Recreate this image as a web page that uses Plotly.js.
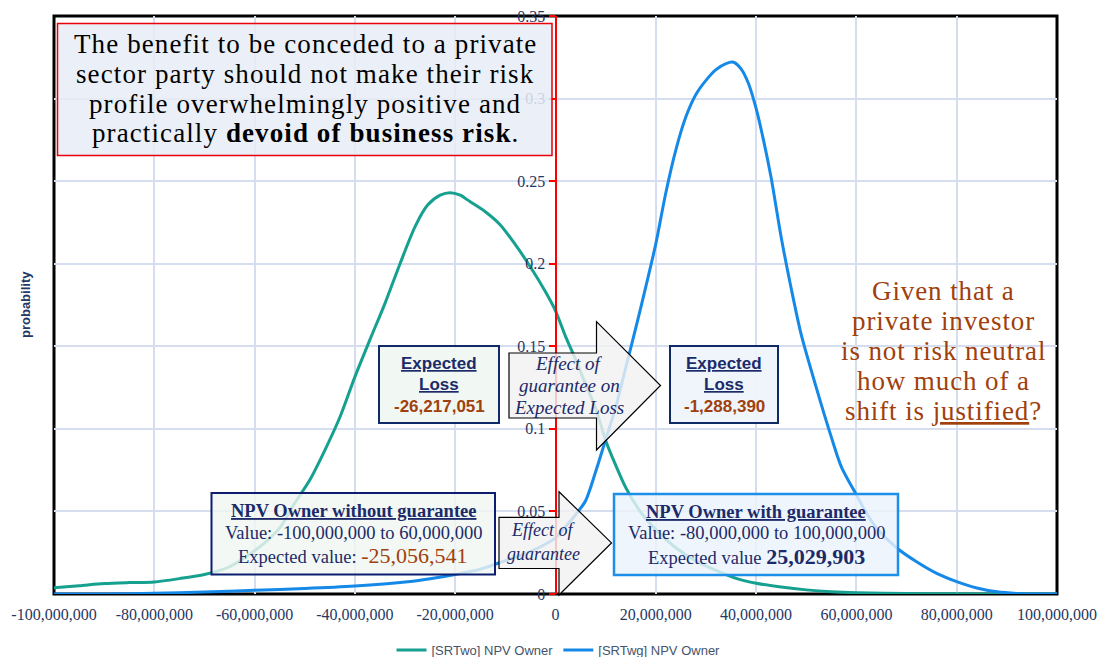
<!DOCTYPE html>
<html>
<head>
<meta charset="utf-8">
<script src="https://cdn.plot.ly/plotly-3.0.1.min.js"></script>
<style>
  html, body { margin: 0; padding: 0; background: #ffffff; }
  #chart { width: 1099px; height: 657px; }
</style>
</head>
<body>
<div id="chart"></div>
<script>
// ---- Series: probability of NPV (owner) without / with the guarantee ----
const npvWithoutX = [-100e6, -95e6, -90e6, -85e6, -80e6, -75e6, -70e6, -65e6, -62e6, -58e6,
  -55e6, -52e6, -49e6, -46e6, -43e6, -40e6, -37e6, -34e6, -31e6, -28e6,
  -25.5e6, -23e6, -21e6, -19e6, -17e6, -14e6, -11e6, -8e6, -5e6, -2e6,
  0, 2e6, 4e6, 6e6, 8e6, 10e6, 12e6, 14e6, 17e6, 20e6,
  24e6, 28e6, 32e6, 36e6, 40e6, 45e6, 50e6, 55e6, 60e6, 70e6, 80e6, 90e6, 100e6];
const npvWithoutP = [0.0038, 0.0050, 0.0063, 0.0069, 0.0073, 0.0093, 0.0118, 0.0165, 0.022, 0.031,
  0.040, 0.055, 0.069, 0.087, 0.107, 0.1315, 0.154, 0.176, 0.200, 0.2225,
  0.2355, 0.2415, 0.243, 0.2415, 0.2375, 0.2315, 0.2235, 0.2115, 0.198, 0.183,
  0.1715, 0.156, 0.142, 0.127, 0.1125, 0.093, 0.078, 0.0645, 0.0495, 0.039,
  0.028, 0.020, 0.0143, 0.0095, 0.0065, 0.0042, 0.0025, 0.0014, 0.0008, 0.0003, 0.0001, 0, 0];

const npvWithX = [-100e6, -90e6, -80e6, -70e6, -60e6, -50e6, -40e6, -30e6, -25e6, -20e6,
  -15e6, -10e6, -6e6, -3e6, 0, 2e6, 4e6, 6e6, 8e6, 10e6,
  12e6, 14e6, 16e6, 18e6, 20e6, 22e6, 24e6, 26e6, 28e6, 30e6,
  32e6, 34e6, 35.5e6, 37e6, 38.5e6, 40e6, 41.5e6, 43e6, 45e6, 47e6,
  49e6, 52e6, 55e6, 57e6, 60e6, 62e6, 64e6, 68e6, 72e6, 76e6,
  80e6, 84e6, 88e6, 92e6, 96e6, 100e6];
const npvWithP = [0, 0, 0.0004, 0.0012, 0.0022, 0.0033, 0.0048, 0.0072, 0.0092, 0.0118,
  0.015, 0.0202, 0.0245, 0.0286, 0.034, 0.0407, 0.048, 0.0565, 0.074, 0.0935,
  0.113, 0.137, 0.161, 0.186, 0.212, 0.243, 0.269, 0.289, 0.3025, 0.311,
  0.3175, 0.3212, 0.322, 0.318, 0.309, 0.294, 0.2745, 0.252, 0.216, 0.185,
  0.157, 0.125, 0.095, 0.077, 0.060, 0.049, 0.040, 0.028, 0.0195, 0.0125,
  0.0075, 0.0036, 0.0013, 0.0003, 0, 0];

const seriesNames = ['[SRTwo] NPV Owner', '[SRTwg] NPV Owner'];

// ---- Axis ticks ----
const xTickVals = [-100e6, -80e6, -60e6, -40e6, -20e6, 0, 20e6, 40e6, 60e6, 80e6, 100e6];
const xTickText = ['-100,000,000', '-80,000,000', '-60,000,000', '-40,000,000', '-20,000,000', '0',
  '20,000,000', '40,000,000', '60,000,000', '80,000,000', '100,000,000'];
const yTickVals = [0, 0.05, 0.1, 0.15, 0.2, 0.25, 0.3, 0.35];
const yTickText = ['0', '0.05', '0.1', '0.15', '0.2', '0.25', '0.3', '0.35'];

// ---- Page geometry (pixels) and helpers to place overlays in paper units ----
const W = 1099, H = 657;
const M = { l: 54, r: 42, t: 16, b: 63, autoexpand: false };
const PW = W - M.l - M.r, PH = H - M.t - M.b;
const fx = p => (p - M.l) / PW;
const fy = p => (H - M.b - p) / PH;

const SERIF = '"Liberation Serif", "Times New Roman", serif';
const SANS = '"Liberation Sans", Arial, sans-serif';
const NAVY = '#1B2A68';
const BROWN = '#A0400C';
const TEAL = '#16A08F';
const BLUE = '#1589E8';

const shapes = [];
const annotations = [];

function box(x0, y0, x1, y1, lineColor, lineWidth, fill) {
  shapes.push({
    type: 'rect', xref: 'paper', yref: 'paper', layer: 'above',
    x0: fx(x0), x1: fx(x1), y0: fy(y1), y1: fy(y0),
    line: { color: lineColor, width: lineWidth }, fillcolor: fill
  });
}

function arrow(x0, sTop, sBot, hx, hTop, hBot, tipX) {
  const mid = (sTop + sBot) / 2;
  const pts = [[x0, sTop], [hx, sTop], [hx, hTop], [tipX, mid], [hx, hBot], [hx, sBot], [x0, sBot]];
  const path = 'M ' + pts.map(p => fx(p[0]).toFixed(5) + ',' + fy(p[1]).toFixed(5)).join(' L ') + ' Z';
  shapes.push({
    type: 'path', xref: 'paper', yref: 'paper', layer: 'above', path: path,
    line: { color: '#000000', width: 1.2 }, fillcolor: 'rgba(242,242,242,0.82)'
  });
}

function textLines(lines, cx, ys, font, spacing) {
  lines.forEach((t, i) => {
    const txt = spacing ? '<span style="letter-spacing:' + spacing + 'px">' + t + '</span>' : t;
    annotations.push({
      xref: 'paper', yref: 'paper', x: fx(cx), y: fy(ys[i]),
      xanchor: 'center', yanchor: 'middle', showarrow: false,
      text: txt, font: Object.assign({}, font)
    });
  });
}

// Plot-area frame
shapes.push({
  type: 'rect', xref: 'paper', yref: 'paper', layer: 'between',
  x0: 0, x1: 1, y0: 0, y1: 1, line: { color: '#000000', width: 3 }, fillcolor: 'rgba(0,0,0,0)'
});

// Statement box (top left)
box(57.5, 23.5, 552, 155.5, '#E8000B', 1.5, 'rgba(232,236,246,0.85)');
textLines([
  'The benefit to be conceded to a private',
  'sector party should not make their risk',
  'profile overwhelmingly positive and',
  'practically <b>devoid of business risk</b>.'
], 305, [43.5, 73.5, 103.5, 133.5], { family: SERIF, size: 27, color: '#000000' }, 1.1);

// Question (right)
textLines([
  'Given that a',
  'private investor',
  'is not risk neutral',
  'how much of a',
  'shift is <u>justified</u>?'
], 943, [291, 321, 351, 381, 411], { family: SERIF, size: 27, color: BROWN }, 0.9);

// Expected loss boxes and arrow between them
box(379, 346, 499, 423, '#0F2A66', 2, 'rgba(240,246,242,0.92)');
textLines(['<b><u>Expected</u></b>', '<b><u>Loss</u></b>'], 439, [363, 384.5], { family: SANS, size: 17, color: NAVY });
textLines(['<b>-26,217,051</b>'], 439, [406.5], { family: SANS, size: 17, color: BROWN });

arrow(509, 353, 418, 596.5, 321.7, 450, 660.5);
textLines(['<i>Effect of</i>', '<i>guarantee on</i>', '<i>Expected Loss</i>'], 569, [363, 385.5, 407],
  { family: SERIF, size: 19, color: NAVY });

box(670, 346, 778, 423, '#0F2A66', 2, 'rgba(238,244,251,0.92)');
textLines(['<b><u>Expected</u></b>', '<b><u>Loss</u></b>'], 724, [363, 384.5], { family: SANS, size: 17, color: NAVY });
textLines(['<b>-1,288,390</b>'], 724, [406.5], { family: SANS, size: 17, color: BROWN });

// NPV summary boxes and arrow between them
box(211.5, 493, 495, 574.5, '#0D1E70', 2, 'rgba(240,246,242,0.82)');
textLines([
  '<b><u>NPV Owner without guarantee</u></b>',
  'Value: -100,000,000 to 60,000,000',
  'Expected value: <span style="font-size:22px;color:' + BROWN + '">-25,056,541</span>'
], 353, [511, 532.5, 555.5], { family: SERIF, size: 18.5, color: NAVY });

arrow(499, 517.3, 568.5, 559, 491.7, 595, 611.5);
textLines(['<i>Effect of</i>', '<i>guarantee</i>'], 543, [530, 553.5], { family: SERIF, size: 18, color: NAVY });

box(614, 494, 898, 575, '#1E8FE8', 2.5, 'rgba(236,243,251,0.82)');
textLines([
  '<b><u>NPV Owner with guarantee</u></b>',
  'Value: -80,000,000 to 100,000,000',
  'Expected value <span style="font-size:22px"><b>25,029,903</b></span>'
], 756, [511.5, 533, 556], { family: SERIF, size: 18.5, color: NAVY });

// Y-axis title, drawn at the left edge of the frame
annotations.push({
  xref: 'paper', yref: 'paper', x: fx(25), y: fy(305), textangle: -90,
  xanchor: 'center', yanchor: 'middle', showarrow: false,
  text: '<b>probability</b>', font: { family: SANS, size: 13, color: '#1F3864' }
});

const traces = [
  {
    x: npvWithoutX, y: npvWithoutP, name: seriesNames[0], type: 'scatter', mode: 'lines',
    line: { color: TEAL, width: 3, shape: 'spline', smoothing: 0.8 }, hoverinfo: 'x+y'
  },
  {
    x: npvWithX, y: npvWithP, name: seriesNames[1], type: 'scatter', mode: 'lines',
    line: { color: BLUE, width: 3, shape: 'spline', smoothing: 0.8 }, hoverinfo: 'x+y'
  }
];

const layout = {
  width: W, height: H,
  margin: M,
  paper_bgcolor: '#ffffff', plot_bgcolor: '#ffffff',
  showlegend: true,
  legend: {
    orientation: 'h', x: 0.503, xanchor: 'center', y: fy(650), yanchor: 'middle',
    font: { family: SANS, size: 13, color: '#44546A' }, bgcolor: 'rgba(0,0,0,0)'
  },
  xaxis: {
    range: [-100e6, 100e6], tickmode: 'array', tickvals: xTickVals, ticktext: xTickText,
    showgrid: true, gridcolor: '#D5DDEE', gridwidth: 2, zeroline: false, showline: false,
    ticks: '', ticklabelstandoff: 9,
    tickfont: { family: SERIF, size: 16, color: '#1F3864' }
  },
  yaxis: {
    range: [0, 0.35], tickmode: 'array', tickvals: yTickVals, ticktext: yTickText,
    anchor: 'free', position: 0.5, side: 'left',
    showgrid: true, gridcolor: '#D5DDEE', gridwidth: 2, zeroline: false,
    showline: true, linecolor: '#FF0000', linewidth: 2,
    ticks: 'outside', ticklen: 6, tickwidth: 2, tickcolor: '#FF0000',
    tickfont: { family: SERIF, size: 16, color: '#1F3864' }
  },
  shapes: shapes,
  annotations: annotations
};

Plotly.newPlot('chart', traces, layout, { displayModeBar: false, staticPlot: true });
</script>
</body>
</html>
